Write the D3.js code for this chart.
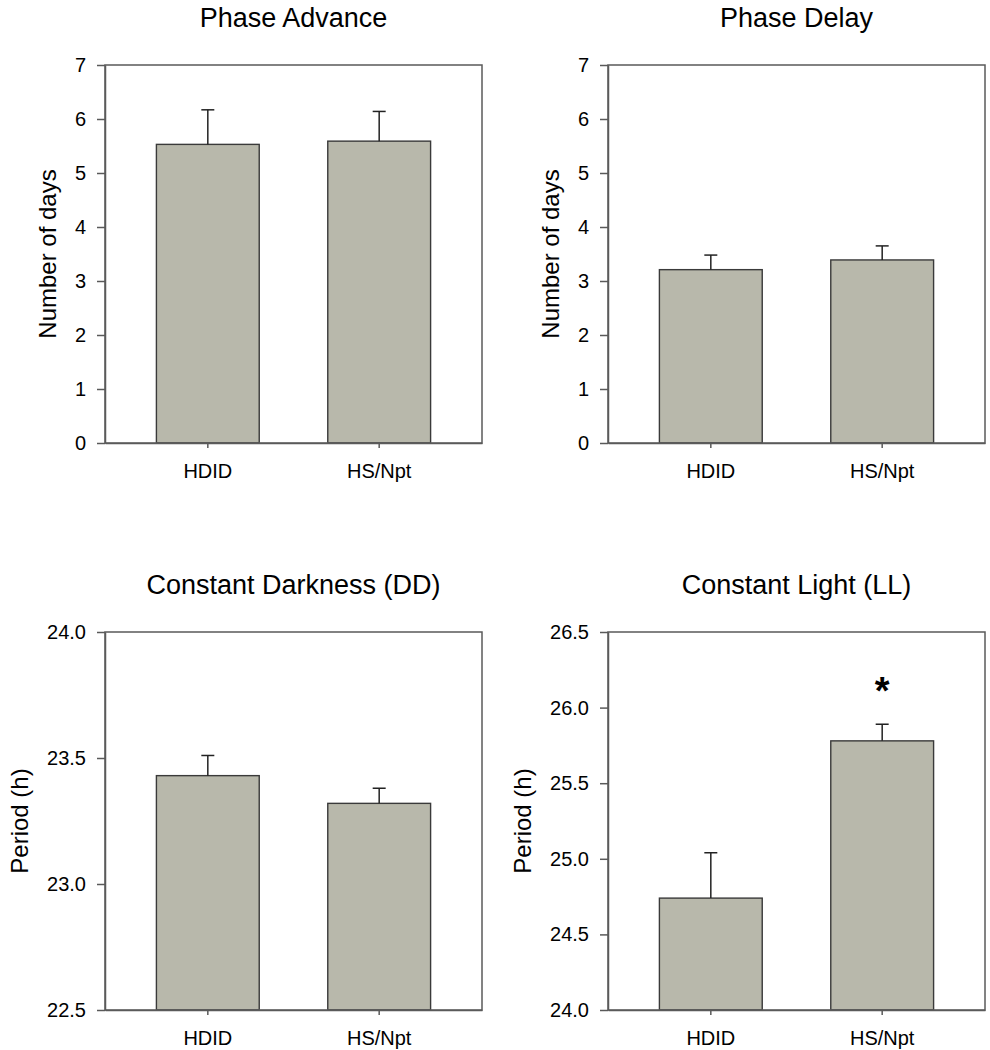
<!DOCTYPE html>
<html>
<head>
<meta charset="utf-8">
<script src="https://cdn.jsdelivr.net/npm/d3@7/dist/d3.min.js"></script>
<style>
  html, body { margin: 0; padding: 0; background: #fff; }
  svg { display: block; font-family: "Liberation Sans", Arial, sans-serif; }
</style>
</head>
<body>
<svg id="chart" width="990" height="1050"></svg>
<script>
// ---- Data ----
const categories = ["HDID", "HS/Npt"];
const titles = ["Phase Advance", "Phase Delay", "Constant Darkness (DD)", "Constant Light (LL)"];
const yLabels = ["Number of days", "Number of days", "Period (h)", "Period (h)"];

const advanceMeans = [5.53, 5.59];
const advanceErr   = [0.64, 0.55];
const delayMeans   = [3.21, 3.39];
const delayErr     = [0.27, 0.26];
const ddMeans      = [23.43, 23.32];
const ddErr        = [0.08, 0.06];
const llMeans      = [24.74, 25.78];
const llErr        = [0.30, 0.11];

const advanceTicks = [0, 1, 2, 3, 4, 5, 6, 7];
const delayTicks   = [0, 1, 2, 3, 4, 5, 6, 7];
const ddTicks      = [22.5, 23.0, 23.5, 24.0];
const llTicks      = [24.0, 24.5, 25.0, 25.5, 26.0, 26.5];

const significance = [null, null, null, [null, "*"]];

// ---- Layout ----
const panels = [
  { means: advanceMeans, err: advanceErr, ticks: advanceTicks, fmt: d3.format("d"),   x: 105, y: 65 },
  { means: delayMeans,   err: delayErr,   ticks: delayTicks,   fmt: d3.format("d"),   x: 608, y: 65 },
  { means: ddMeans,      err: ddErr,      ticks: ddTicks,      fmt: d3.format(".1f"), x: 105, y: 632 },
  { means: llMeans,      err: llErr,      ticks: llTicks,      fmt: d3.format(".1f"), x: 608, y: 632 }
];
const W = 377, H = 378;
const barFill = "#b8b8ab";
const barStroke = "#3a3a3a";
const axisColor = "#5a5a5a";

const svg = d3.select("#chart");

panels.forEach((p, i) => {
  const g = svg.append("g").attr("transform", `translate(${p.x},${p.y})`);
  const x = d3.scaleBand().domain(categories).range([0, W]).paddingInner(0.4).paddingOuter(0.3);
  const y = d3.scaleLinear().domain([p.ticks[0], p.ticks[p.ticks.length - 1]]).range([H, 0]);

  // bars
  g.selectAll("rect.bar").data(categories).enter().append("rect")
    .attr("class", "bar")
    .attr("x", d => x(d))
    .attr("width", x.bandwidth())
    .attr("y", (d, j) => y(p.means[j]))
    .attr("height", (d, j) => H - y(p.means[j]))
    .attr("fill", barFill)
    .attr("stroke", barStroke)
    .attr("stroke-width", 1.4);

  // error bars (upper only)
  const cap = 13;
  categories.forEach((c, j) => {
    const cx = x(c) + x.bandwidth() / 2;
    const top = y(p.means[j] + p.err[j]);
    g.append("line").attr("x1", cx).attr("x2", cx)
      .attr("y1", y(p.means[j])).attr("y2", top)
      .attr("stroke", "#222").attr("stroke-width", 1.5);
    g.append("line").attr("x1", cx - cap / 2).attr("x2", cx + cap / 2)
      .attr("y1", top).attr("y2", top)
      .attr("stroke", "#222").attr("stroke-width", 1.5);
    const sig = significance[i] && significance[i][j];
    if (sig) {
      g.append("text").attr("x", cx).attr("y", top - 20)
        .attr("text-anchor", "middle")
        .attr("font-size", 38).attr("font-weight", "bold")
        .attr("fill", "#000").text(sig);
    }
  });

  // frame
  g.append("rect").attr("x", 0).attr("y", 0).attr("width", W).attr("height", H)
    .attr("fill", "none").attr("stroke", axisColor).attr("stroke-width", 1.5);

  // y axis
  const ya = g.append("g").call(d3.axisLeft(y).tickValues(p.ticks).tickFormat(p.fmt).tickSize(8).tickSizeOuter(0).tickPadding(11));
  ya.select(".domain").attr("stroke", axisColor).attr("stroke-width", 1.5);
  ya.selectAll(".tick line").attr("stroke", axisColor).attr("stroke-width", 1.5);
  ya.selectAll(".tick text").attr("font-size", 20).attr("fill", "#000").style("font-family", "Liberation Sans, Arial, sans-serif");

  // x axis
  const xa = g.append("g").attr("transform", `translate(0,${H})`)
    .call(d3.axisBottom(x).tickSize(5).tickSizeOuter(0).tickPadding(16));
  xa.select(".domain").attr("stroke", axisColor).attr("stroke-width", 1.5);
  xa.selectAll(".tick line").attr("stroke", axisColor).attr("stroke-width", 1.5);
  xa.selectAll(".tick text").attr("font-size", 20).attr("fill", "#000").style("font-family", "Liberation Sans, Arial, sans-serif");

  // title
  g.append("text").attr("x", W / 2).attr("y", i < 2 ? 27 - p.y : 594 - p.y)
    .attr("text-anchor", "middle").attr("font-size", 27).attr("fill", "#000")
    .text(titles[i]);

  // y label
  const lx = i < 2 ? -58 : -86;
  g.append("text")
    .attr("transform", `translate(${lx},${H / 2}) rotate(-90)`)
    .attr("text-anchor", "middle").attr("dy", "0.36em")
    .attr("font-size", 24).attr("fill", "#000")
    .text(yLabels[i]);
});
</script>
</body>
</html>
